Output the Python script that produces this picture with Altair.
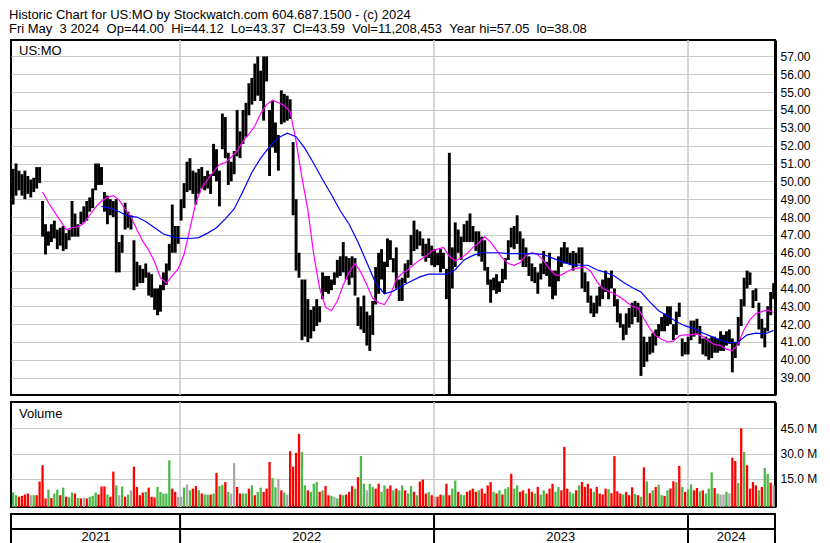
import altair as alt
import pandas as pd

# ---------------- text ----------------
header_1 = "Historic Chart for US:MO by Stockwatch.com 604.687.1500 - (c) 2024"
NB = "\u00a0"
header_2 = ("Fri May" + NB * 2 + "3 2024" + NB * 2 + "Op=44.00" + NB * 2 + "Hi=44.12" + NB * 2 +
            "Lo=43.37" + NB * 2 + "Cl=43.59" + NB * 2 + "Vol=11,208,453" + NB * 2 +
            "Year hi=57.05" + NB * 2 + "lo=38.08")
symbol_label = "US:MO"
volume_label = "Volume"

# ---------------- price bars (high / low), one bar per ~3 trading days ----------------
high = [
    50.7, 51.0, 50.6, 50.4, 50.6, 50.3, 50.1, 50.2, 50.8, 50.8,
    48.9, 47.6, 47.2, 47.6, 47.8, 47.3, 47.4, 47.5, 47.1, 47.3,
    48.9, 48.2, 47.6, 48.3, 48.6, 48.9, 49.1, 49.6, 51.0, 51.0,
    50.8, 49.4, 49.2, 49.0, 48.9, 49.0, 46.6, 47.0, 48.8, 48.3,
    48.1, 46.7, 45.5, 45.3, 45.1, 45.4, 44.9, 44.8, 44.0, 44.0,
    44.2, 44.9, 45.4, 46.5, 48.7, 47.5, 47.5, 49.0, 49.9, 51.1,
    51.3, 50.6, 50.5, 50.7, 50.8, 50.3, 50.6, 50.4, 52.1, 51.8,
    50.6, 53.8, 53.6, 51.6, 51.1, 51.7, 54.0, 52.8, 54.0, 54.4,
    55.5, 55.8, 56.6, 57.0, 56.2, 57.0, 57.0, 54.0, 54.5, 53.3,
    52.6, 55.1, 54.9, 54.8, 54.6, 52.2, 49.0, 46.0, 44.5, 44.5,
    43.4, 42.8, 43.0, 43.4, 43.0, 44.9, 44.7, 44.7, 44.5, 44.9,
    45.6, 45.8, 46.6, 45.8, 45.7, 45.8, 45.7, 43.5, 43.0, 43.6,
    42.7, 42.5, 43.3, 45.2, 46.0, 46.2, 45.5, 46.8, 46.7, 45.7,
    46.3, 44.5, 44.6, 45.4, 45.6, 47.0, 47.8, 47.3, 47.2, 46.8,
    46.5, 46.8, 46.4, 46.2, 46.0, 46.2, 46.0, 45.1, 51.6, 46.3,
    47.7, 47.3, 46.9, 47.6, 47.8, 48.2, 47.5, 47.2, 47.2, 46.9,
    46.7, 45.2, 44.5, 44.6, 44.8, 44.4, 45.1, 45.7, 46.7, 47.4,
    47.5, 48.1, 47.2, 46.8, 46.3, 45.8, 45.4, 45.2, 44.9, 45.4,
    46.1, 45.5, 46.0, 45.0, 45.0, 45.8, 46.3, 46.6, 46.3, 46.0,
    46.1, 46.0, 46.3, 46.3, 44.9, 44.4, 43.6, 43.2, 43.6, 44.1,
    44.5, 45.0, 44.6, 45.0, 44.0, 43.4, 42.6, 42.0, 42.6, 42.9,
    43.2, 43.3, 43.2, 43.0, 41.3, 41.0, 41.3, 41.5, 41.7, 42.0,
    42.4, 42.6, 43.0, 43.0, 42.0, 42.7, 43.2, 41.2, 41.0, 41.3,
    42.2, 42.2, 42.3, 41.9, 41.2, 41.3, 41.2, 41.3, 41.3, 41.2,
    41.6, 41.4, 41.6, 41.7, 41.2, 41.0, 42.4, 43.4, 44.6, 45.0,
    44.9, 43.9, 44.0, 43.2, 42.3, 41.8, 43.0, 43.8, 44.3,
]
low = [
    48.7, 49.2, 49.5, 49.2, 49.0, 49.3, 49.1, 49.4, 49.6, 49.9,
    46.9, 45.9, 46.4, 46.6, 46.8, 46.2, 46.4, 46.1, 46.2, 46.7,
    46.9, 46.9, 46.9, 47.6, 47.7, 47.8, 48.3, 48.5, 49.5, 49.8,
    49.8, 48.3, 47.6, 48.1, 48.0, 44.9, 44.9, 46.0, 47.3, 47.4,
    47.3, 43.9, 44.1, 44.3, 44.3, 44.6, 43.6, 43.5, 42.8, 42.5,
    42.7, 43.9, 44.2, 45.0, 46.0, 46.0, 46.5, 47.8, 48.5, 49.4,
    49.5, 49.3, 48.7, 49.3, 49.6, 49.5, 49.6, 49.3, 50.3, 50.0,
    48.6, 51.8, 51.3, 49.8, 50.0, 50.4, 51.4, 51.3, 52.1, 52.5,
    53.7, 54.3, 54.5, 54.8, 54.5, 53.4, 55.6, 50.3, 51.9, 51.6,
    50.6, 53.2, 53.3, 53.4, 53.5, 48.1, 45.0, 44.6, 41.1, 41.3,
    41.0, 41.2, 41.6, 41.9, 42.1, 43.4, 43.8, 43.7, 43.9, 44.2,
    44.6, 44.7, 44.9, 44.5, 44.2, 44.6, 43.6, 41.9, 41.7, 41.5,
    40.8, 40.5, 41.4, 43.1, 43.7, 44.5, 43.7, 45.2, 45.6, 44.9,
    44.0, 43.3, 43.3, 44.3, 44.6, 45.3, 46.1, 46.2, 46.4, 45.8,
    45.5, 45.7, 45.3, 45.2, 45.3, 44.9, 45.1, 43.4, 38.05, 44.0,
    45.2, 46.0, 45.6, 46.6, 46.6, 46.6, 46.6, 46.1, 45.8, 45.5,
    45.0, 44.2, 43.2, 43.9, 43.7, 43.8, 44.3, 44.5, 45.6, 46.3,
    46.2, 46.5, 45.6, 45.2, 45.2, 44.7, 44.4, 44.3, 43.7, 44.5,
    44.8, 44.7, 44.1, 43.4, 43.6, 44.4, 45.2, 45.4, 45.4, 45.3,
    45.0, 45.2, 45.4, 44.0, 43.8, 43.2, 42.6, 42.4, 42.6, 43.0,
    43.4, 43.8, 43.4, 44.0, 43.0, 42.1, 41.8, 41.1, 41.4, 41.8,
    42.0, 42.4, 42.1, 39.1, 39.6, 39.9, 40.3, 40.4, 40.8, 41.3,
    41.6, 41.6, 41.9, 42.0, 41.1, 41.4, 42.4, 40.2, 40.3, 40.3,
    41.1, 41.3, 41.4, 40.9, 40.3, 40.2, 40.0, 40.1, 40.4, 40.4,
    40.5, 40.5, 40.8, 40.9, 39.3, 40.1, 40.8, 41.9, 43.0, 44.0,
    44.2, 42.9, 43.3, 41.7, 41.2, 40.7, 41.6, 42.5, 43.4,
]

# ---------------- volume (millions) and day direction: G up, R down, N unchanged ----------------
volume = [
    6.9, 5.3, 4.4, 4.9, 5.7, 6.3, 5.3, 5.3, 5.3, 13.4,
    23.1, 3.4, 8.6, 3.6, 6.3, 8.6, 5.3, 9.8, 4.4, 4.0,
    6.9, 6.3, 3.6, 3.4, 3.8, 3.4, 4.4, 4.9, 6.9, 5.7,
    10.5, 10.5, 5.7, 4.4, 19.3, 11.1, 5.3, 10.5, 4.4, 5.7,
    8.2, 22.2, 10.2, 5.3, 6.9, 7.3, 9.8, 4.4, 4.0, 10.2,
    7.3, 6.3, 6.3, 26.0, 9.2, 7.3, 4.4, 4.4, 9.8, 11.7,
    8.2, 9.2, 10.7, 8.2, 6.3, 5.7, 5.7, 5.7, 6.3, 18.5,
    10.7, 11.5, 13.1, 7.3, 6.3, 24.3, 10.2, 6.3, 6.3, 6.3,
    9.2, 11.1, 5.3, 7.3, 9.8, 7.3, 9.2, 25.0, 15.4, 10.0,
    15.0, 8.2, 6.9, 5.7, 31.4, 22.3, 30.5, 41.7, 30.9, 11.1,
    8.2, 7.3, 12.1, 13.1, 7.3, 8.2, 10.7, 5.3, 5.0, 4.4,
    3.4, 5.7, 5.3, 5.7, 7.3, 10.7, 9.2, 16.0, 28.5, 12.1,
    8.2, 12.0, 10.2, 9.2, 12.1, 7.3, 11.1, 9.2, 11.1, 8.2,
    9.2, 8.2, 11.1, 8.2, 6.3, 10.7, 7.3, 5.3, 13.4, 14.6,
    6.3, 7.3, 5.3, 4.4, 4.4, 5.7, 5.3, 12.1, 5.3, 9.2,
    14.0, 7.3, 5.7, 5.3, 7.3, 8.2, 9.2, 7.3, 8.2, 9.2,
    6.3, 11.1, 13.1, 7.3, 6.3, 8.2, 5.7, 9.2, 10.2, 18.0,
    9.2, 11.1, 7.3, 8.2, 6.3, 9.2, 7.3, 6.3, 10.2, 5.7,
    8.2, 6.3, 9.2, 12.1, 7.3, 10.2, 8.2, 34.0, 9.2, 7.3,
    6.3, 8.2, 11.1, 13.1, 10.2, 12.1, 9.2, 7.3, 10.2, 6.3,
    5.7, 9.2, 8.8, 6.5, 28.5, 7.6, 6.3, 5.7, 7.3, 5.3,
    10.0, 6.0, 5.3, 4.4, 21.8, 13.4, 6.5, 8.2, 10.2, 11.5,
    5.3, 4.9, 8.2, 9.2, 13.6, 13.0, 22.7, 10.2, 7.3, 8.8,
    11.7, 8.2, 9.6, 7.6, 8.2, 6.3, 9.2, 18.9, 9.6, 6.3,
    5.7, 5.7, 7.3, 6.3, 27.6, 25.6, 12.5, 45.0, 30.9, 23.1,
    9.2, 13.1, 11.1, 8.2, 10.2, 21.4, 17.9, 12.7, 11.1,
]
direction = list(
    "GGRRRRNGRR" "RRGRGGRGRG" "GRGRNRGGGR" "RRGRRGNGRG" "NRRRRGRRRG"
    "GGGGRRNNGN" "GRRGRGGRGR" "GGRGNNRRGG" "RGRGGRRRGG" "NRGNRRRRGG"
    "RGGGRGRRGN" "GRGRRRGRGG" "NGGRRGGRRG" "RGGRGGRGRR" "RGRNRRGRRG"
    "GRGGRRRRGR" "RRRGRGRGGR" "GGRRGRRGRG" "GRRRGGRRRG" "GRGRRRRGRR"
    "RRGRRRRGRR" "RGRGRGRGRG" "GRGRRGRGRG" "GRRGRGGGRG" "NNGNRRGRGR"
    "RRRGRGGRN"
)

# ---------------- moving averages ----------------
# magenta: one value every 2nd bar, starting at bar 10
ma_fast = [
    49.4, 48.8, 48.3, 47.8, 47.3, 47.4, 47.45, 47.65, 48.1, 48.55,
    48.9, 49.1, 49.2, 48.95, 48.45, 48.0, 47.3, 46.65, 46.15, 45.5,
    44.6, 44.3, 44.7, 45.1, 45.9, 47.35, 48.8, 49.65, 50.1, 50.55,
    50.95, 51.05, 51.35, 51.7, 52.25, 52.65, 53.1, 53.8, 54.3, 54.55,
    54.4, 54.25, 53.9, 52.25, 50.2, 48.4, 45.9, 44.0, 42.95, 42.75,
    43.3, 44.2, 44.9, 45.4, 44.9, 44.2, 43.45, 43.2, 43.1, 43.65,
    44.5, 44.85, 45.05, 45.35, 45.6, 45.8, 46.1, 46.2, 46.3, 45.8,
    45.55, 45.7, 45.95, 46.3, 46.55, 46.9, 46.6, 46.15, 45.7, 45.4,
    45.3, 45.45, 45.85, 46.0, 45.9, 45.55, 45.1, 44.75, 44.75, 44.95,
    45.1, 45.15, 45.2, 44.95, 44.4, 44.0, 43.85, 43.7, 43.5, 43.25,
    43.0, 42.9, 42.3, 41.75, 41.35, 41.15, 41.0, 41.05, 41.35, 41.4,
    41.4, 41.45, 41.3, 41.05, 40.85, 40.8, 40.6, 40.5, 40.9, 41.7,
    42.25, 42.6, 42.7, 42.8, 42.65,
]
# blue: one value every 3rd bar, starting at bar 30
ma_slow = [
    48.6, 48.5, 48.3, 48.05, 48.0, 47.75, 47.4, 47.05, 46.9, 46.8,
    46.8, 46.85, 47.1, 47.4, 47.9, 48.45, 49.45, 50.5, 51.3, 51.95,
    52.45, 52.7, 52.5, 51.85, 51.0, 50.1, 49.25, 48.35, 47.6, 46.6,
    45.45, 44.3, 43.7, 43.85, 44.15, 44.4, 44.65, 44.8, 44.8, 44.8,
    45.05, 45.6, 45.85, 46.0, 46.0, 46.0, 45.95, 45.95, 45.95, 45.95,
    45.9, 45.7, 45.5, 45.35, 45.3, 45.3, 45.05, 44.9, 44.7, 44.35,
    44.05, 43.8, 43.25, 42.75, 42.45, 42.15, 41.9, 41.75, 41.5, 41.3,
    41.1, 40.95, 41.0, 41.4, 41.5, 41.45, 41.65,
]

price_ticks = list(range(39, 58))
volume_ticks = [15, 30, 45]
year_starts = ["2022-01-01", "2023-01-01", "2024-01-01"]
year_labels = ["2021", "2022", "2023", "2024"]
year_label_dates = ["2021-09-02", "2022-07-02", "2023-07-02", "2024-03-03"]

assert len(high) == len(low) == len(volume) == len(direction) == 259
assert len(ma_fast) == 125 and len(ma_slow) == 77

# ---------------- frames ----------------
dates = pd.date_range("2021-05-06", "2024-05-03", periods=len(high))
bars = pd.DataFrame({"date": dates, "high": high, "low": low,
                     "vol": volume, "dir": direction})
fast_df = pd.DataFrame({"date": dates[10::2], "ma": ma_fast})
slow_df = pd.DataFrame({"date": dates[30::3], "ma": ma_slow})
years_df = pd.DataFrame({"date": pd.to_datetime(year_starts)})
labels_df = pd.DataFrame({"date": pd.to_datetime(year_label_dates),
                          "label": year_labels, "y": [0.5] * 4})

FONT = "Liberation Sans"
W = 764
HP, HV, HB = 355, 105, 30
GRID = "#c8c8c8"

xscale = alt.Scale(domain=[alt.DateTime(year=2021, month=5, date=3),
                           alt.DateTime(year=2024, month=5, date=5)])
X = alt.X("date:T", scale=xscale, axis=None)


def right_axis(values, **kw):
    return alt.Axis(orient="right", values=values, grid=True, gridColor=GRID,
                    gridWidth=1, domainColor="black", domainWidth=3, ticks=False,
                    labelPadding=5, labelFont=FONT, labelFontSize=12,
                    labelColor="black", labelOverlap=False, labelBound=False,
                    labelFlush=False, title=None, **kw)


price_axis = right_axis(price_ticks, format=".2f")
price_y = alt.Scale(domain=[38.03, 57.92], nice=False, zero=False)

year_grid = alt.Chart(years_df).mark_rule(color=GRID, strokeWidth=1.5).encode(x=X)

price_bars = alt.Chart(bars).mark_rule(color="black", strokeWidth=2.9).encode(
    x=X,
    y=alt.Y("low:Q", scale=price_y, axis=price_axis),
    y2="high:Q",
)
fast_line = alt.Chart(fast_df).mark_line(color="#ff00ff", strokeWidth=1.2).encode(
    x=X, y=alt.Y("ma:Q", scale=price_y, axis=price_axis))
slow_line = alt.Chart(slow_df).mark_line(color="#0000ff", strokeWidth=1.2).encode(
    x=X, y=alt.Y("ma:Q", scale=price_y, axis=price_axis))
sym_text = alt.Chart(pd.DataFrame({"t": [symbol_label]})).mark_text(
    align="left", baseline="middle", font=FONT, fontSize=13, color="black").encode(
    text="t:N", x=alt.value(8), y=alt.value(11))

price = alt.layer(year_grid, price_bars, fast_line, slow_line, sym_text).properties(
    width=W, height=HP)

vol_y = alt.Scale(domain=[-1.7, 60.6], nice=False, zero=False)
vol_axis = right_axis(volume_ticks, labelExpr="format(datum.value, '.1f') + ' M'")
vol_bars = alt.Chart(bars).mark_rule(strokeWidth=2.3).encode(
    x=X,
    y=alt.Y("vol:Q", scale=vol_y, axis=vol_axis),
    y2=alt.datum(-1.7),
    color=alt.Color("dir:N", scale=alt.Scale(domain=["G", "R", "N"],
                                             range=["#4cb848", "#ff0000", "#a8a8a8"]),
                    legend=None),
)
vol_text = alt.Chart(pd.DataFrame({"t": [volume_label]})).mark_text(
    align="left", baseline="middle", font=FONT, fontSize=13, color="black").encode(
    text="t:N", x=alt.value(8), y=alt.value(12))
volume_panel = alt.layer(year_grid, vol_bars, vol_text).properties(width=W, height=HV)

row_scale = alt.Scale(domain=[0, 2], nice=False, zero=False)
bottom_lines = alt.Chart(years_df).mark_rule(color="black", strokeWidth=2).encode(x=X)
row_rule = alt.Chart(pd.DataFrame({"y": [1]})).mark_rule(color="black", strokeWidth=2).encode(
    y=alt.Y("y:Q", scale=row_scale, axis=None))
year_text = alt.Chart(labels_df).mark_text(font=FONT, fontSize=13, color="black",
                                           baseline="middle").encode(
    x=X, y=alt.Y("y:Q", scale=row_scale, axis=None), text="label:N")
bottom = alt.layer(bottom_lines, row_rule, year_text).properties(width=W, height=HB)

chart = alt.vconcat(price, volume_panel, bottom, spacing=2).properties(
    title=alt.TitleParams(text=[header_1, header_2], anchor="start", font=FONT,
                          fontSize=13, fontWeight="normal", color="black",
                          lineHeight=14, offset=2, baseline="top"),
    padding={"left": 1, "top": 1, "right": 0, "bottom": 1},
    background="white",
).configure_view(stroke="black", strokeWidth=2).configure_concat(spacing=2)

chart.save("out.html", embed_options={"renderer": "svg", "actions": False})
